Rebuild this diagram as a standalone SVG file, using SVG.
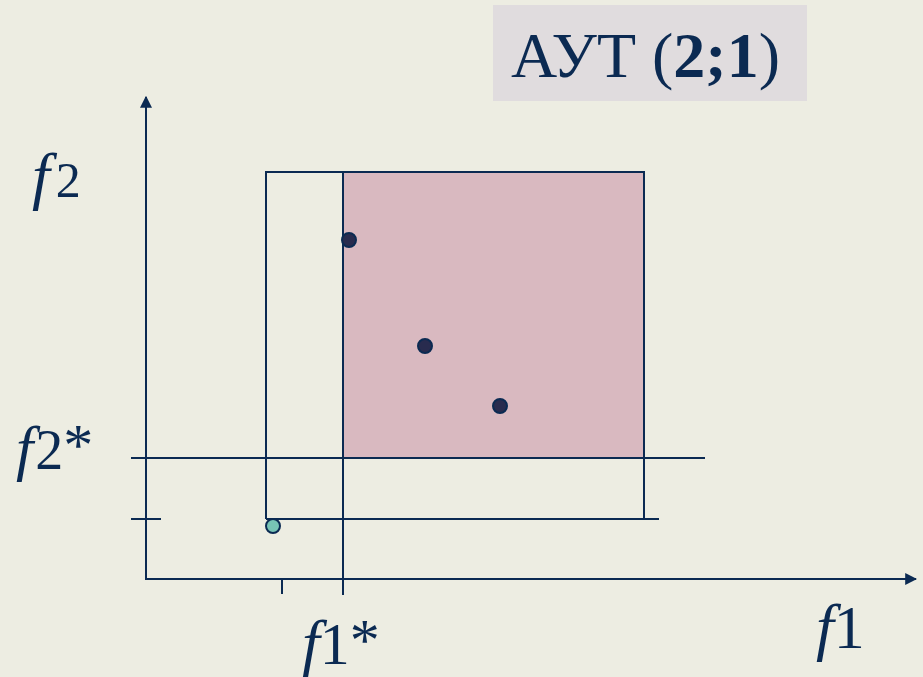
<svg xmlns="http://www.w3.org/2000/svg" width="923" height="677" viewBox="0 0 923 677">
<style>
.ln{stroke:#0B2A52;stroke-width:2;fill:none}
.t{font-family:"Liberation Serif","Times New Roman",serif;fill:#0B2A52}
.i{font-style:italic}
.dot{fill:#282B4E;stroke:#0B2A52;stroke-width:2}
</style>
<defs>
<marker id="ar" viewBox="0 0 10 10" refX="9" refY="5" markerWidth="12" markerHeight="12" markerUnits="userSpaceOnUse" orient="auto">
<path d="M0,0 L10,5 L0,10 z" fill="#0B2A52"/>
</marker>
</defs>
<rect x="0" y="0" width="923" height="677" fill="#EDEDE2"/>
<g id="title">
<rect x="493" y="5" width="314" height="96" fill="#E0DCDE"/>
<text class="t" x="511" y="77" font-size="64">АУТ (<tspan font-weight="bold">2;1</tspan>)</text>
</g>
<g id="region">
<rect x="343" y="172" width="301" height="286" fill="#D9B9C0"/>
</g>
<g id="connectors">
<line class="ln" x1="146" y1="580" x2="146" y2="97" marker-end="url(#ar)"/>
<line class="ln" x1="146" y1="579" x2="916" y2="579" marker-end="url(#ar)"/>
<polyline class="ln" points="266,519 266,172 644,172 644,519"/>
<line class="ln" x1="131" y1="519" x2="161" y2="519"/>
<line class="ln" x1="266" y1="519" x2="659" y2="519"/>
<line class="ln" x1="131" y1="458" x2="705" y2="458"/>
<line class="ln" x1="343" y1="172" x2="343" y2="595"/>
<line class="ln" x1="282" y1="579" x2="282" y2="594"/>
</g>
<g id="points">
<circle class="dot" cx="349" cy="240" r="7"/>
<circle class="dot" cx="425" cy="346" r="7"/>
<circle class="dot" cx="500" cy="406" r="7"/>
<circle cx="273" cy="526" r="7" fill="#77C3B5" stroke="#0B2A52" stroke-width="2"/>
</g>
<g id="labels">
<text class="t" x="32" y="197"><tspan class="i" font-size="64">f</tspan><tspan font-size="50" dx="6">2</tspan></text>
<text class="t" x="16" y="469"><tspan class="i" font-size="62">f</tspan><tspan font-size="56" dx="2">2</tspan><tspan font-size="60" dy="-4">*</tspan></text>
<text class="t" x="302" y="664"><tspan class="i" font-size="64">f</tspan><tspan font-size="60">1</tspan><tspan font-size="60" dy="-4">*</tspan></text>
<text class="t" x="816" y="648"><tspan class="i" font-size="64">f</tspan><tspan font-size="62">1</tspan></text>
</g>
</svg>
